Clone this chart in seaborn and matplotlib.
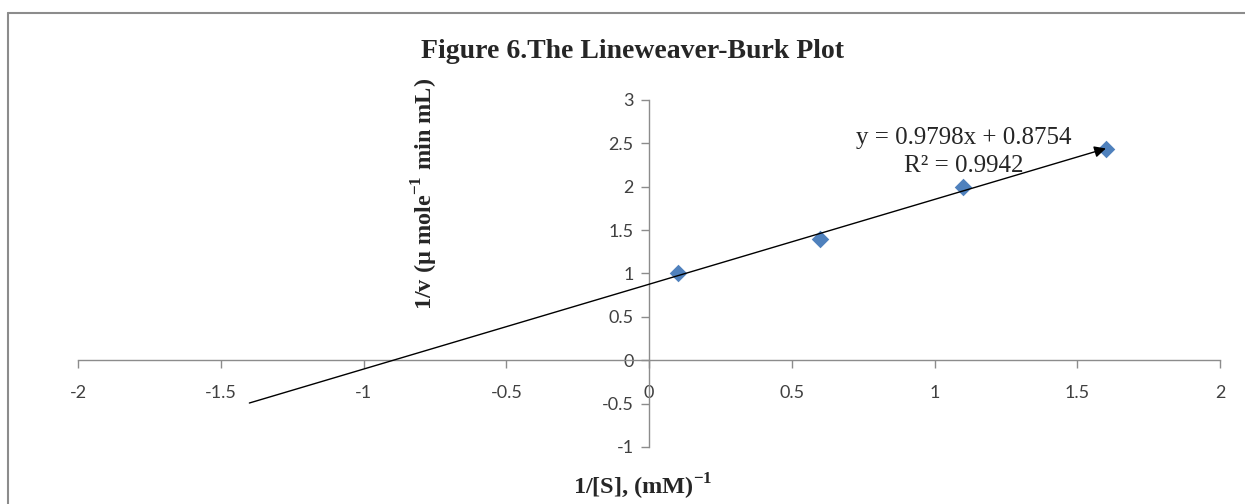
import numpy as np
import matplotlib
matplotlib.use("Agg")
import matplotlib.pyplot as plt
import seaborn as sns

# Lineweaver-Burk data
inv_s = [0.1, 0.6, 1.1, 1.6]      # 1/[S], (mM)^-1
inv_v = [1.0, 1.4, 2.0, 2.43]     # 1/v
x_ticks = [-2, -1.5, -1, -0.5, 0, 0.5, 1, 1.5, 2]
y_ticks = [-1, -0.5, 0, 0.5, 1, 1.5, 2, 2.5, 3]
eq_text = "y = 0.9798x + 0.8754"
r2_text = "R² = 0.9942"
backward = 1.5   # trendline forecast backwards

sns.set_style("white")
plt.rcParams['font.family'] = ['Liberation Serif', 'DejaVu Serif']
plt.rcParams['mathtext.fontset'] = 'custom'
plt.rcParams['mathtext.rm'] = 'Liberation Serif'
plt.rcParams['mathtext.bf'] = 'Liberation Serif:bold'

fig = plt.figure(figsize=(12.45, 5.04), dpi=100)
ax = fig.add_axes([0.0627, 0.1131, 0.9173, 0.6885])

sns.scatterplot(x=inv_s, y=inv_v, marker="D", s=80, color="#4F81BD",
                edgecolor="#4F81BD", linewidth=0, ax=ax, zorder=3)

# linear trendline with arrow head at the last point
slope, intercept = np.polyfit(inv_s, inv_v, 1)
x0 = inv_s[0] - backward
x1 = inv_s[-1]
ax.annotate("", xy=(x1, slope * x1 + intercept), xytext=(x0, slope * x0 + intercept),
            arrowprops=dict(arrowstyle="-|>", color="black", lw=1.0,
                            mutation_scale=17, shrinkA=0, shrinkB=0), zorder=4)

# axes crossing at the origin (set before styling the ticks, it resets them)
for side in ["top", "right"]:
    ax.spines[side].set_visible(False)
ax.spines["left"].set_position(("data", 0))
ax.spines["bottom"].set_position(("data", 0))
for side in ["left", "bottom"]:
    ax.spines[side].set_color("#8C8C8C")
    ax.spines[side].set_linewidth(1.0)

ax.set_xlim(-2, 2)
ax.set_ylim(-1, 3)
ax.set_xticks(x_ticks)
ax.set_yticks(y_ticks)
ax.set_xticklabels([f"{t:g}" for t in x_ticks], family="Lato", fontsize=13, color="#404040")
ax.set_yticklabels([f"{t:g}" for t in y_ticks], family="Lato", fontsize=13, color="#404040")
ax.tick_params(axis="both", which="major", direction="out", length=6,
               color="#8C8C8C", width=1.0, bottom=True, left=True)
ax.tick_params(axis="x", pad=12)
ax.tick_params(axis="y", pad=5)
ax.patch.set_alpha(0)

# trendline label (Excel places it near the end of the line)
ax.text(1.103, 2.563, eq_text, ha="center", va="center", fontsize=18)
ax.text(1.103, 2.241, r2_text, ha="center", va="center", fontsize=18)

fig.text(632 / 1245, 1 - 52 / 504, "Figure 6.The Lineweaver-Burk Plot",
         ha="center", va="center", fontsize=20, fontweight="bold")
fig.text(425 / 1245, 1 - 194 / 504, r"1/v (µ mole$^{\mathbf{-1}}$ min mL)", rotation=90,
         ha="center", va="center", fontsize=17.5, fontweight="bold")
fig.text(643 / 1245, 1 - 487 / 504, r"1/[S], (mM)$^{\mathbf{-1}}$",
         ha="center", va="center", fontsize=17.5, fontweight="bold")

# chart frame (top and left edges visible)
fig.add_artist(plt.Line2D([8 / 1245, 1], [1 - 13 / 504, 1 - 13 / 504], color="#8C8C8C", lw=1.5))
fig.add_artist(plt.Line2D([8 / 1245, 8 / 1245], [0, 1 - 13 / 504], color="#8C8C8C", lw=1.5))

fig.savefig("out.png", dpi=100)
